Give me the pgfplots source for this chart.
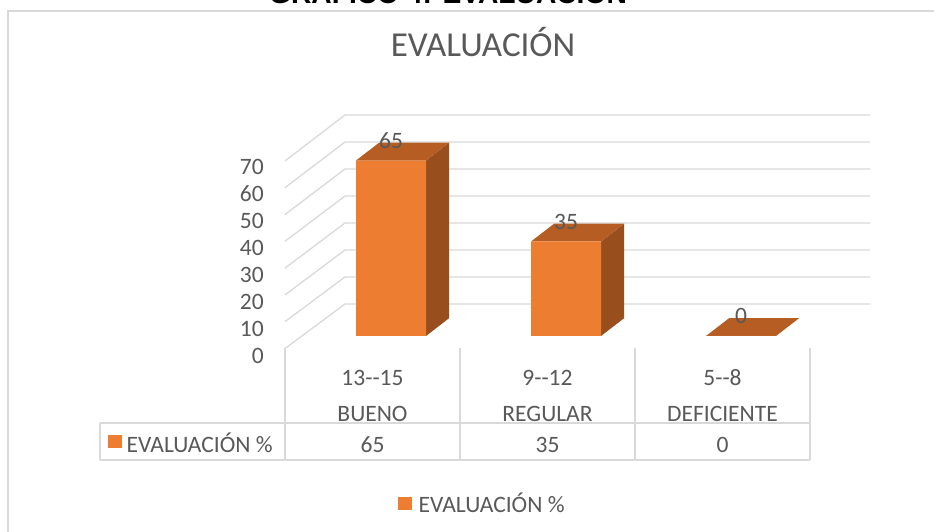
\documentclass[border=0pt]{standalone}
\usepackage{pgfplots}
\pgfplotsset{compat=1.18}
\usepackage{fontspec}
\setmainfont{Carlito}
\newfontfamily\arialb{Liberation Sans}
\definecolor{xorange}{HTML}{ED7D31}
\definecolor{xtop}{HTML}{B55D23}
\definecolor{xside}{HTML}{984F1D}
\definecolor{xtext}{HTML}{595959}
\definecolor{xgrid}{HTML}{D9D9D9}
\newcommand\lbl{\fontsize{23.5}{28}\selectfont}
\pgfplotsset{/pgf/number format/assume math mode=true}
\begin{document}
\begin{tikzpicture}
\useasboundingbox (0,0) rectangle (934pt,532pt);
\clip (0,0) rectangle (934pt,532pt);
\fill[white] (0,0) rectangle (934pt,532pt);
\begin{scope}[x=1pt,y=-1pt,shift={(0pt,532pt)}]
  % frame
  \draw[xgrid, line width=1.5pt] (8,540) -- (8,11) -- (940,11);
  % cut-off heading
  \node[anchor=base, font=\arialb\bfseries\fontsize{28.2}{32}\selectfont, text=black, inner sep=0pt] at (448,3.8) {GRÁFICO 4: EVALUACIÓN};
  % chart title
  \node[anchor=base, font=\fontsize{35}{40}\selectfont, text=xtext, inner sep=0pt] at (483,56.7) {EVALUACIÓN};
  % walls gridlines
  \foreach \v in {0,10,...,70} {
    \draw[xgrid, line width=1.3pt] (285,{348.5-2.68*\v}) -- (345,{304-2.7*\v}) -- (870,{304-2.7*\v});
  }
  % table lines
  \foreach \q in {285,460,635,810} { \draw[xgrid, line width=1.3pt] (\q,348) -- (\q,460); }
  \draw[xgrid, line width=1.3pt] (100,423) -- (810,423);
  \draw[xgrid, line width=1.3pt] (100,460) -- (810,460);
  \draw[xgrid, line width=1.3pt] (100,423) -- (100,460);
  \fill[xorange] (108.3,435) rectangle (121.7,448.3);
  \node[anchor=base west, font=\lbl, text=xtext, inner sep=0pt] at (126.5,453) {EVALUACIÓN \%};
\end{scope}
\begin{axis}[
  at={(216pt,196pt)}, anchor=south west,
  scale only axis, width=700pt, height=189pt,
  xmin=-1, xmax=3, ymin=0, ymax=70,
  clip=false,
  axis line style={draw=none}, tick style={draw=none},
  ytick={0,10,...,70},
  yticklabel style={anchor=east, inner sep=0pt, xshift=48pt, yshift=-19.5pt, font=\lbl, text=xtext},
  xtick={0,1,2},
  xticklabels={13{-}{-}15,9{-}{-}12,5{-}{-}8},
  xticklabel style={anchor=base, inner sep=0pt, xshift=-18.5pt, yshift=-50pt, font=\lbl, text=xtext},
  extra x ticks={0,1,2},
  extra x tick labels={BUENO,REGULAR,DEFICIENTE},
  extra x tick style={xticklabel style={yshift=-35.7pt}},
  legend style={at={(axis cs:0.04,-62)}, anchor=west, draw=none, fill=none, font=\lbl, text=xtext, inner sep=0pt,
    /tikz/every odd column/.append style={column sep=5pt}},
]
% side faces
\addplot[fill=xside, draw=none, forget plot] coordinates {(0.2,0) (0.2,65) (0.332,71.6) (0.332,6.6)} -- cycle;
\addplot[fill=xside, draw=none, forget plot] coordinates {(1.2,0) (1.2,35) (1.332,41.6) (1.332,6.6)} -- cycle;
% top faces
\addplot[fill=xtop, draw=none, forget plot] coordinates {(-0.2,65) (0.2,65) (0.332,71.6) (-0.068,71.6)} -- cycle;
\addplot[fill=xtop, draw=none, forget plot] coordinates {(0.8,35) (1.2,35) (1.332,41.6) (0.932,41.6)} -- cycle;
\addplot[fill=xtop, draw=none, forget plot] coordinates {(1.8,0) (2.2,0) (2.332,6.6) (1.932,6.6)} -- cycle;
% front faces
\addplot[ybar, bar width=0.4, fill=xorange, draw=none,
  nodes near coords, nodes near coords style={anchor=center, yshift=20pt, font=\lbl, text=xtext},
  legend image code/.code={\fill[xorange] (0pt,-6.7pt) rectangle (13.4pt,6.7pt);}]
  coordinates {(0,65) (1,35) (2,0)};
\addlegendentry{EVALUACIÓN \%}
% data table values
\addplot[draw=none, mark=none, forget plot, nodes near coords, point meta=explicit,
  nodes near coords style={anchor=base, xshift=-18.5pt, font=\lbl, text=xtext}]
  coordinates {(0,-43.3) [65] (1,-43.3) [35] (2,-43.3) [0]};
\end{axis}
\end{tikzpicture}
\end{document}
